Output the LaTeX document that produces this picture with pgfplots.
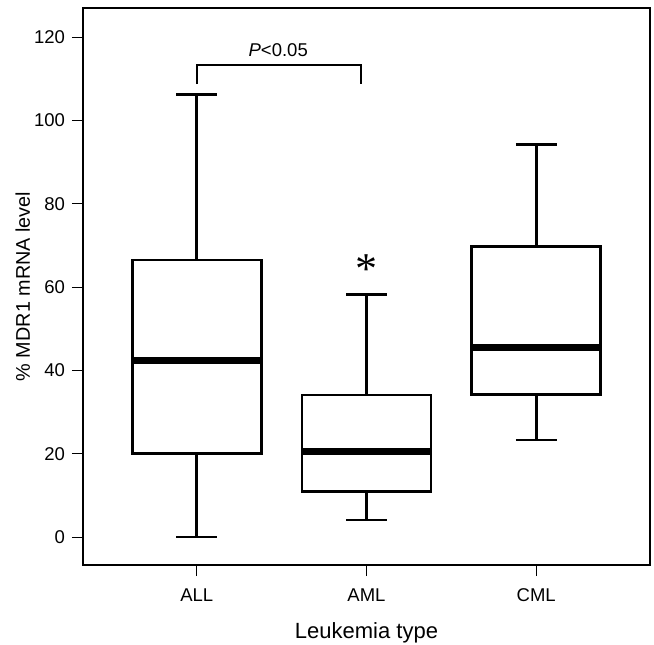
\documentclass[border=0pt]{standalone}
\usepackage{pgfplots}
\usepgfplotslibrary{statistics}
\pgfplotsset{compat=1.18}
\usepackage{fontspec}
\setmainfont{Liberation Sans}
\newfontfamily\serifast{Liberation Serif}

\begin{document}
\begin{tikzpicture}
\begin{axis}[
    scale only axis,
    width=283.5pt, height=278.5pt,
    xmin=0.33, xmax=3.67,
    ymin=-6.7, ymax=127,
    axis line style={line width=0.8pt},
    xtick={1,2,3},
    xticklabels={ALL,AML,CML},
    ytick={0,20,...,120},
    tick align=outside,
    xtick pos=bottom, ytick pos=left,
    major tick length=5.5pt,
    tick style={line width=0.5pt,black},
    /pgf/number format/assume math mode=true,
    tick label style={font=\fontsize{9.25}{10}\selectfont},
    xticklabel style={yshift=-3pt},
    xlabel={Leukemia type},
    ylabel={\% MDR1 mRNA level},
    x label style={font=\fontsize{11}{12}\selectfont,
        at={(axis description cs:0.5,-0.122)}, anchor=center},
    y label style={font=\fontsize{9.9}{11}\selectfont,
        at={(axis description cs:-0.106,0.5)}, anchor=center},
    boxplot/draw direction=y,
    boxplot/box extend=0.76,
    boxplot/whisker extend=0.24,
    clip=false,
]
\addplot+[black, solid, line width=1.4pt, mark=none,
    boxplot/every median/.style={line width=3.5pt},
    boxplot prepared={draw position=1,
    lower whisker=0, lower quartile=20.1, median=42.3,
    upper quartile=66.5, upper whisker=106.3}] coordinates {};
\addplot+[black, solid, line width=1.4pt, mark=none,
    boxplot/every median/.style={line width=3.5pt},
    boxplot prepared={draw position=2,
    lower whisker=4.1, lower quartile=11.0, median=20.5,
    upper quartile=34.1, upper whisker=58.3}] coordinates {};
\addplot+[black, solid, line width=1.4pt, mark=none,
    boxplot/every median/.style={line width=3.5pt},
    boxplot prepared={draw position=3,
    lower whisker=23.3, lower quartile=34.3, median=45.4,
    upper quartile=69.8, upper whisker=94.3}] coordinates {};
% significance bracket
\addplot[black, line width=1pt, mark=none] coordinates {
  (1,108.7) (1,113.3) (1.965,113.3) (1.965,108.7)
};
\node[font=\fontsize{9.25}{10}\selectfont] at (axis cs:1.48,117) {\textit{P}<0.05};
\node[font=\serifast\fontsize{22}{22}\selectfont] at (axis cs:2,64.4) {*};
\coordinate (nw) at (rel axis cs:0,1);
\coordinate (se) at (rel axis cs:1,0);
\end{axis}
\pgfresetboundingbox
\path ([xshift=-41.5pt,yshift=4pt]nw) rectangle ([xshift=2pt,yshift=-39.5pt]se);
\end{tikzpicture}
\end{document}
